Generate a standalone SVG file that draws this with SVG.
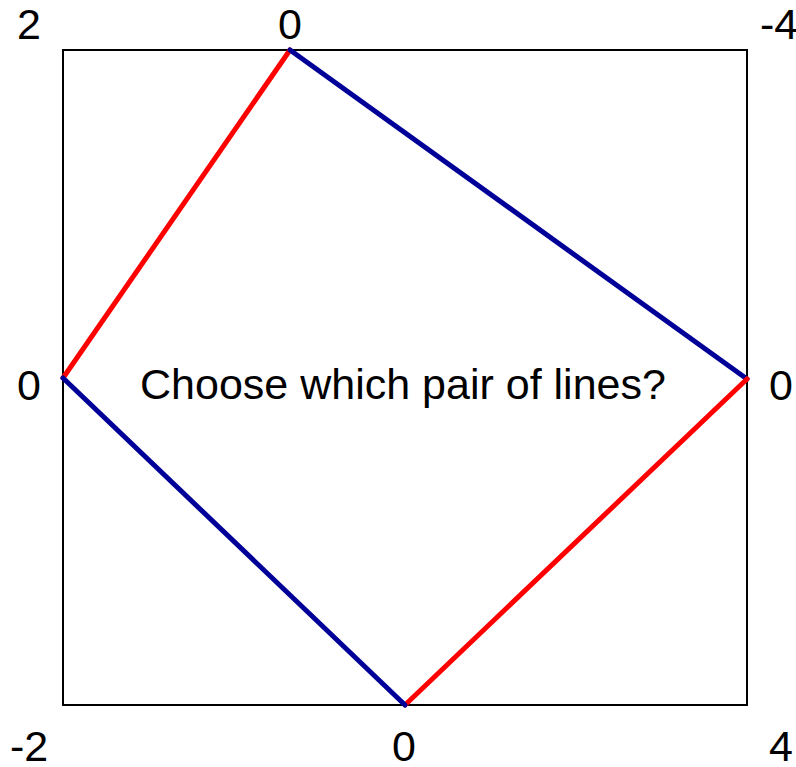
<svg xmlns="http://www.w3.org/2000/svg" width="796" height="767" viewBox="0 0 796 767">
<style>
text{font-family:"Liberation Sans",Arial,sans-serif;font-size:43px;fill:#000;text-anchor:middle}
.red{stroke:#ff0000;stroke-width:5;stroke-linecap:round}
.blue{stroke:#000099;stroke-width:5;stroke-linecap:round}
</style>
<rect x="0" y="0" width="796" height="767" fill="#fff"/>
<g id="frame"><rect x="63" y="50" width="684" height="655" fill="none" stroke="#000" stroke-width="2"/></g>
<g id="connectors">
<line class="red" x1="63" y1="378" x2="290" y2="50"/>
<line class="blue" x1="290" y1="50" x2="747" y2="379"/>
<line class="red" x1="747" y1="379" x2="405" y2="705"/>
<line class="blue" x1="405" y1="705" x2="63" y2="378"/>
</g>
<g id="labels">
<text x="29" y="39">2</text>
<text x="290" y="39">0</text>
<text x="779" y="39">-4</text>
<text x="29" y="400">0</text>
<text x="781" y="400">0</text>
<text x="29" y="761">-2</text>
<text x="404" y="761">0</text>
<text x="781" y="761">4</text>
<text x="403" y="399">Choose which pair of lines?</text>
</g>
</svg>
